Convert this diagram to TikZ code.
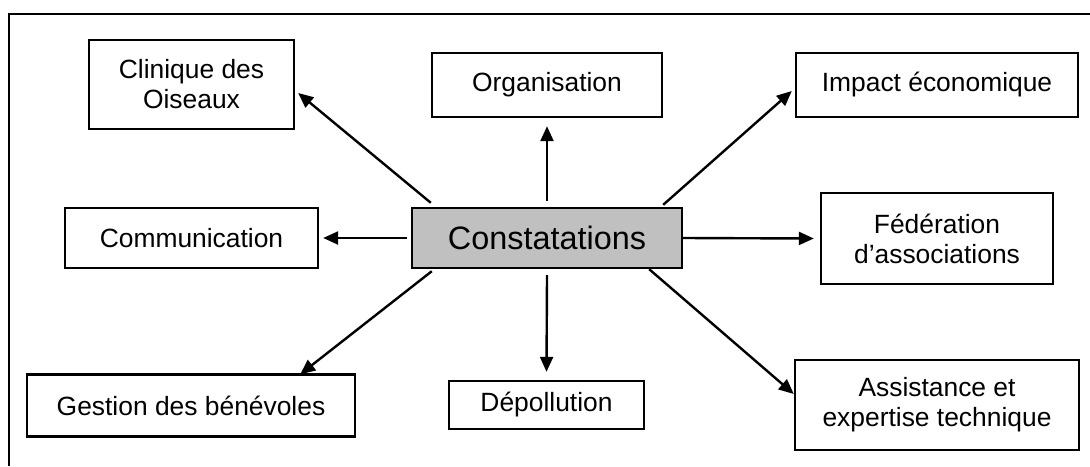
\documentclass[tikz,border=0pt]{standalone}
\usepackage{fontspec}
\setmainfont{Liberation Sans}
\usetikzlibrary{arrows.meta,calc}
\definecolor{boxgray}{HTML}{C0C0C0}
\tikzset{
  lbl/.style={draw=black, line width=1.2pt, fill=white, align=center, inner sep=0pt,
    font=\fontsize{13.2}{15}\selectfont},
  conn/.style={line width=1.2pt, -{Triangle[length=7.5pt,width=6.5pt]}},
}
\begin{document}
\begin{tikzpicture}[x=0.5pt,y=-0.5pt]
\useasboundingbox (0,0) rectangle (1090,466);
\fill[white] (0,0) rectangle (1090,466);
% outer frame (only top and left edges are visible)
\draw[line width=1.2pt] (1090,14) -- (9,14) -- (9,466);

\node[lbl, minimum width=102.5pt, minimum height=44.5pt] (clin) at (191.5,84.5) {Clinique des\\Oiseaux};
\node[lbl, minimum width=115pt, minimum height=32pt] (org) at (547,85) {Organisation};
\node[lbl, minimum width=141pt, minimum height=32pt] (imp) at (937,85) {Impact économique};
\node[lbl, minimum width=126.5pt, minimum height=30pt] (com) at (191.5,238) {Communication};
\node[lbl, fill=boxgray, minimum width=135pt, minimum height=30pt, font=\fontsize{16.2}{18}\selectfont] (cons) at (547,238) {Constatations};
\node[lbl, minimum width=116pt, minimum height=45.5pt] (fed) at (937,238.5) {Fédération\\d’associations};
\node[lbl, minimum width=164pt, minimum height=31pt] (ges) at (191,405.5) {Gestion des bénévoles};
\node[lbl, minimum width=97.5pt, minimum height=24pt] (dep) at (546.5,405) {Dépollution};
\node[lbl, minimum width=142pt, minimum height=45pt] (ass) at (937,405) {Assistance et\\expertise technique};

\draw[conn] ($(cons.north west)+(20,-4)$) -- ($(clin.east)+(3,8.5)$);
\draw[conn] ($(cons.north)+(0,-6)$) -- ($(org.south)+(0,8)$);
\draw[conn] ($(cons.north east)+(-20,-2)$) -- ($(imp.west)+(-3,6)$);
\draw[conn] ($(cons.west)+(-4,0)$) -- ($(com.east)+(4,0)$);
\draw[conn] (cons.east) -- ($(fed.west)+(-6,0)$);
\draw[conn] ($(cons.south west)+(21,2)$) -- ($(ges.north east)+(-56,1)$);
\draw[conn] ($(cons.south)+(0,6)$) -- ($(dep.north)+(0,-8)$);
\draw[conn] ($(cons.south east)+(-34,0)$) -- ($(ass.west)+(0,-11)$);
\end{tikzpicture}
\end{document}
